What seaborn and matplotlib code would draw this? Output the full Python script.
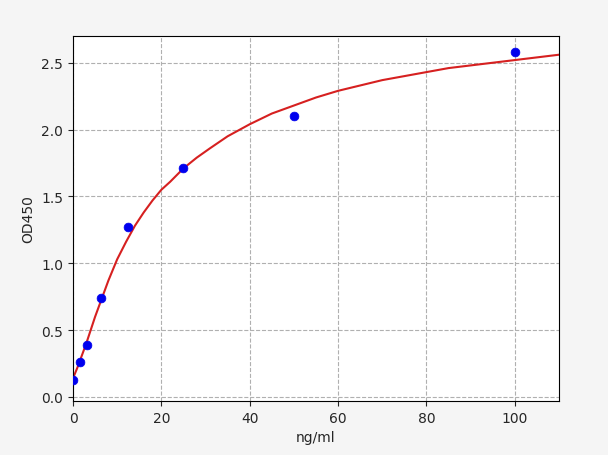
import matplotlib
matplotlib.use("Agg")
import matplotlib.pyplot as plt
import seaborn as sns

conc = [0, 1.56, 3.125, 6.25, 12.5, 25, 50, 100]
od = [0.13, 0.26, 0.39, 0.74, 1.27, 1.71, 2.10, 2.58]
curve_x = [0, 1, 2, 3, 4, 5, 6, 7, 8, 9, 10, 12, 14, 16, 18, 20, 22, 25, 28, 31, 35, 40, 45, 50, 55, 60, 65, 70, 75, 80, 85, 90, 95, 100, 105, 110]
curve_y = [0.14, 0.22, 0.31, 0.40, 0.50, 0.60, 0.69, 0.78, 0.87, 0.95, 1.03, 1.16, 1.28, 1.38, 1.47, 1.55, 1.61, 1.71, 1.79, 1.86, 1.95, 2.04, 2.12, 2.18, 2.24, 2.29, 2.33, 2.37, 2.40, 2.43, 2.46, 2.48, 2.50, 2.52, 2.54, 2.56]

sns.set_style("white")
fig = plt.figure(figsize=(6.08, 4.56), dpi=100, facecolor="#f5f5f5")
ax = fig.add_axes([73/608, 1-402/456, 486/608, 365/456])
sns.lineplot(x=curve_x, y=curve_y, ax=ax, color="#d62020", linewidth=1.5)
sns.scatterplot(x=conc, y=od, ax=ax, color="#0000ee", s=40, edgecolor="#0000ee", zorder=3)
ax.set_xlim(0, 110)
ax.set_ylim(-0.03, 2.7)
ax.set_xticks([0, 20, 40, 60, 80, 100])
ax.set_yticks([0, 0.5, 1.0, 1.5, 2.0, 2.5])
ax.set_yticklabels(["0.0", "0.5", "1.0", "1.5", "2.0", "2.5"])
ax.grid(True, linestyle="--", color="#b0b0b0", linewidth=0.8)
for s in ax.spines.values():
    s.set_color("black")
    s.set_linewidth(0.8)
ax.tick_params(axis="both", length=3.5, width=0.8, direction="out", bottom=True, left=True, labelsize=10)
ax.set_xlabel("ng/ml", fontsize=10)
ax.set_ylabel("OD450", fontsize=10)
fig.savefig("out.png", dpi=100, facecolor=fig.get_facecolor())
